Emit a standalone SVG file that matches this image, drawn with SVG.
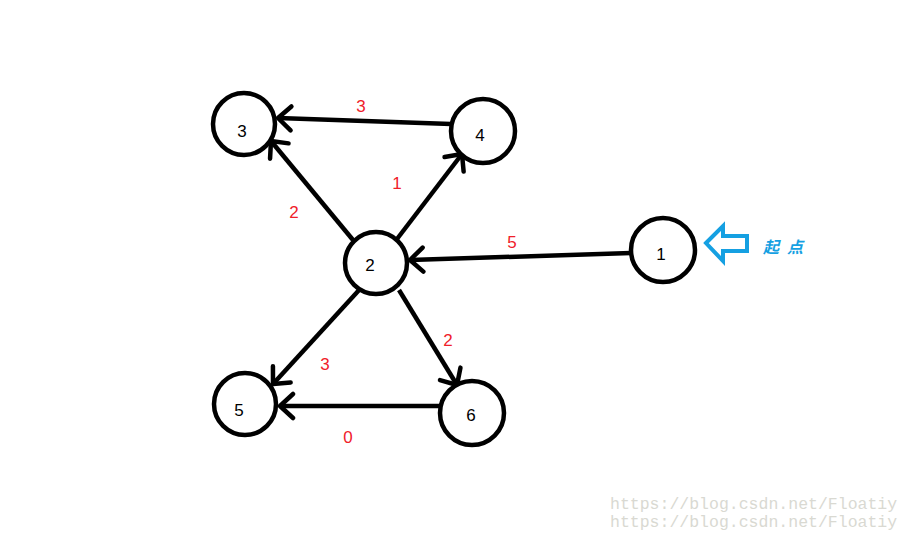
<svg xmlns="http://www.w3.org/2000/svg" width="912" height="540" viewBox="0 0 912 540">
<defs>
<marker id="ah" markerUnits="userSpaceOnUse" markerWidth="30" markerHeight="30" viewBox="-20 -15 30 30" refX="0" refY="0" orient="auto">
<path d="M-13,-12 L0,0 L-13,12" fill="none" stroke="#000" stroke-width="4.5" stroke-linecap="round" stroke-linejoin="round"/>
</marker>
<style>
.node circle{fill:#fff;stroke:#000;stroke-width:4.5}
.node text{font-family:"Liberation Sans",Arial,sans-serif;font-size:17px;fill:#000;text-anchor:middle}
.edge{stroke:#000;stroke-width:4.5;fill:none;marker-end:url(#ah)}
.lbl{font-family:"Liberation Sans",Arial,sans-serif;font-size:17px;fill:#f0202a;text-anchor:middle}
.wm{font-family:"Liberation Mono","DejaVu Sans Mono",monospace;font-size:16.5px;fill:#d9d9d2}
</style>
</defs>
<rect width="912" height="540" fill="#fff"/>
<g id="connectors">
<line class="edge" x1="451" y1="124" x2="278" y2="118"/>
<line class="edge" x1="353" y1="240" x2="271" y2="141"/>
<line class="edge" x1="397" y1="239" x2="462" y2="154"/>
<line class="edge" x1="631" y1="253" x2="410" y2="260"/>
<line class="edge" x1="360" y1="289" x2="273" y2="384"/>
<line class="edge" x1="399" y1="290" x2="457" y2="385"/>
<line class="edge" x1="440" y1="406" x2="280" y2="406"/>
</g>
<g id="edge-labels">
<text class="lbl" x="361" y="112">3</text>
<text class="lbl" x="397" y="189">1</text>
<text class="lbl" x="294" y="218">2</text>
<text class="lbl" x="512" y="248">5</text>
<text class="lbl" x="325" y="370">3</text>
<text class="lbl" x="448" y="346">2</text>
<text class="lbl" x="348" y="443">0</text>
</g>
<g id="node3" class="node"><circle cx="244" cy="124" r="31"/><text x="242" y="137">3</text></g>
<g id="node4" class="node"><circle cx="483" cy="131" r="32"/><text x="480" y="141">4</text></g>
<g id="node2" class="node"><circle cx="376" cy="263" r="31"/><text x="370" y="271">2</text></g>
<g id="node1" class="node"><circle cx="663" cy="250" r="32"/><text x="661" y="260">1</text></g>
<g id="node5" class="node"><circle cx="245" cy="404" r="31"/><text x="239" y="416">5</text></g>
<g id="node6" class="node"><circle cx="472" cy="413" r="32"/><text x="471" y="421">6</text></g>
<g id="start">
<path d="M706,243 L723,226 L723,236 L747,236 L747,251 L723,251 L723,261 Z" fill="none" stroke="#15a0e2" stroke-width="4" stroke-linejoin="miter"/>
<text x="763" y="253" font-family="'Noto Sans CJK SC',sans-serif" font-size="16" font-weight="bold" font-style="italic" fill="#15a0e2" letter-spacing="8">起点</text>
</g>
<g id="watermark">
<text class="wm" x="610" y="509">https://blog.csdn.net/Floatiy</text>
<text class="wm" x="610" y="527">https://blog.csdn.net/Floatiy</text>
</g>
</svg>
